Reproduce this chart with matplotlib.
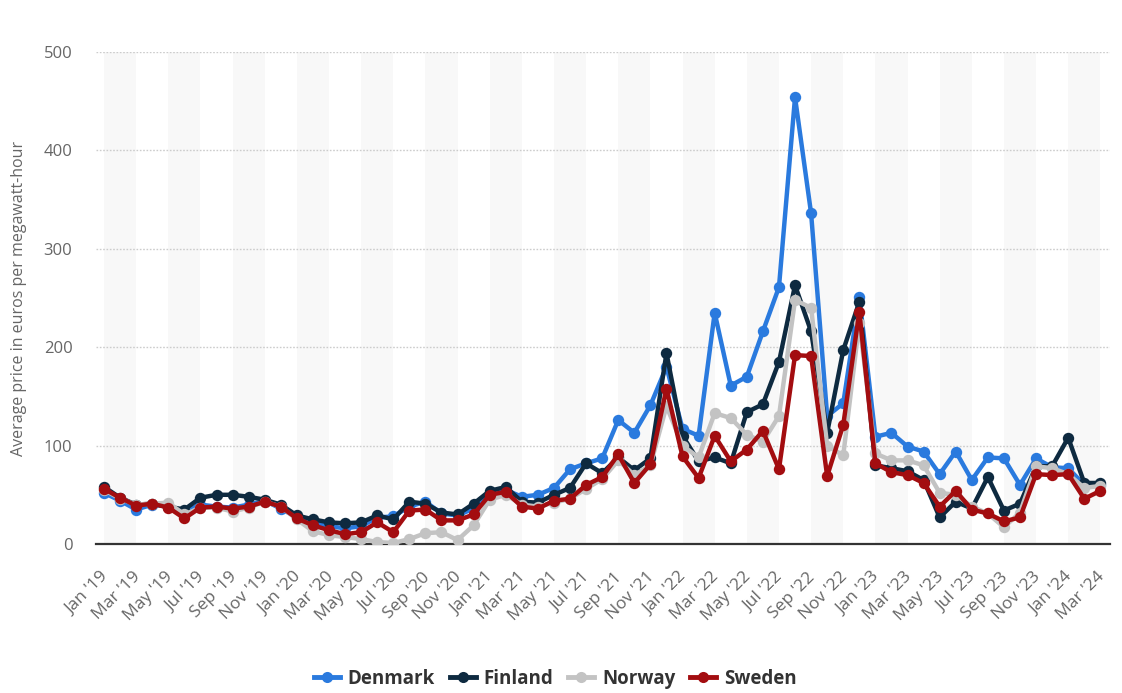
import matplotlib
matplotlib.use("Agg")
import matplotlib.pyplot as plt
from matplotlib.lines import Line2D
from matplotlib.transforms import ScaledTranslation

plt.rcParams["font.family"] = ["Open Sans", "DejaVu Sans"]

# Monthly categories, Jan 2019 - Mar 2024
month_names = ["Jan", "Feb", "Mar", "Apr", "May", "Jun",
               "Jul", "Aug", "Sep", "Oct", "Nov", "Dec"]
years = ["19", "20", "21", "22", "23", "24"]
months = [f"{m} '{y}" for y in years for m in month_names][:63]

# Average day-ahead price, EUR per MWh
denmark = [52, 44, 35, 40, 38, 33, 40, 38, 37, 40, 44, 36,
           27, 22, 18, 16, 18, 27, 28, 38, 43, 31, 29, 36,
           50, 55, 48, 50, 57, 76, 82, 87, 126, 113, 141, 180,
           117, 110, 235, 161, 170, 216, 261, 454, 336, 130, 143, 251,
           109, 113, 99, 94, 71, 94, 65, 88, 87, 60, 87, 78,
           77, 60, 60]
finland = [58, 47, 40, 41, 38, 35, 47, 50, 50, 48, 45, 40,
           29, 25, 22, 21, 22, 29, 25, 43, 41, 32, 30, 41,
           54, 58, 43, 42, 50, 57, 82, 72, 88, 75, 87, 194,
           110, 84, 88, 82, 134, 142, 185, 263, 216, 113, 197, 246,
           80, 77, 74, 65, 27, 43, 36, 68, 34, 41, 79, 79,
           108, 62, 62]
norway = [55, 46, 40, 41, 42, 30, 37, 37, 33, 37, 43, 38,
          25, 13, 9, 7, 5, 2, 1, 5, 11, 12, 4, 19,
          45, 50, 40, 38, 42, 46, 56, 66, 85, 70, 80, 140,
          100, 88, 133, 128, 111, 104, 130, 248, 240, 100, 90, 225,
          92, 85, 85, 80, 52, 50, 38, 31, 17, 32, 79, 77,
          71, 57, 59]
sweden = [56, 47, 39, 41, 37, 26, 37, 38, 36, 38, 43, 38,
          26, 19, 14, 10, 12, 22, 12, 34, 35, 24, 24, 30,
          50, 53, 38, 36, 44, 46, 60, 68, 91, 62, 81, 158,
          89, 67, 110, 84, 96, 115, 76, 192, 191, 69, 121, 236,
          82, 73, 70, 62, 38, 54, 35, 31, 23, 27, 71, 70,
          71, 46, 54]

series = [
    ("Denmark", denmark, "#2a7ade"),
    ("Finland", finland, "#0e2a40"),
    ("Norway", norway, "#c3c3c3"),
    ("Sweden", sweden, "#a30d10"),
]

W, H = 1122, 693
fig = plt.figure(figsize=(W / 100, H / 100), dpi=100)
left, right, top, bottom = 96, 1110, 52, 544
ax = fig.add_axes([left / W, 1 - bottom / H, (right - left) / W, (bottom - top) / H])

n = len(months)
xs = list(range(n))

# alternating column bands every two months
for k in range(0, n, 4):
    ax.axvspan(k, k + 2, color="#f8f8f8", lw=0, zorder=0)

# dotted horizontal grid
for v in [100, 200, 300, 400, 500]:
    ax.axhline(v, color="#cccccc", lw=1.0, ls=(0, (1.2, 1.2)), zorder=1)

for i, (name, vals, col) in enumerate(series):
    ax.plot(xs, vals, color=col, lw=3.2, marker="o", ms=8.2,
            markeredgewidth=0, solid_joinstyle="round", zorder=3 + i)

ax.set_xlim(-0.5, 62.6)
ax.set_ylim(0, 500)

for s in ["top", "right", "left"]:
    ax.spines[s].set_visible(False)
ax.spines["bottom"].set_color("#333333")
ax.spines["bottom"].set_linewidth(1.6)
ax.spines["bottom"].set_zorder(2)

ax.set_yticks([0, 100, 200, 300, 400, 500])
ax.set_yticklabels(["0", "100", "200", "300", "400", "500"])
ax.tick_params(axis="y", length=0, pad=17, labelsize=12, labelcolor="#666666")

ax.set_xticks(xs[::2])
ax.set_xticklabels(months[::2], rotation=45, ha="right", va="top",
                   rotation_mode="anchor")
ax.tick_params(axis="x", length=0, pad=18, labelsize=12.5, labelcolor="#666666")
shift = ScaledTranslation(-4 / 100, 0, fig.dpi_scale_trans)
for lbl in ax.get_xticklabels():
    lbl.set_transform(lbl.get_transform() + shift)

ax.set_ylabel("Average price in euros per megawatt-hour", fontsize=11.5,
              color="#666666")
ax.yaxis.set_label_coords(-0.068, 0.5)

handles = [Line2D([0], [0], color=c, lw=3.5, marker="o", ms=8,
                  markeredgewidth=0) for _, _, c in series]
labels = [s[0] for s in series]
fig.legend(handles, labels, loc="center", bbox_to_anchor=(555 / W, 1 - 679 / H),
           ncol=4, frameon=False, handlelength=1.4, handletextpad=0.4,
           columnspacing=0.8, prop={"weight": "bold", "size": 13.5},
           labelcolor="#333333")

fig.savefig("out.png", dpi=100, facecolor="white")
